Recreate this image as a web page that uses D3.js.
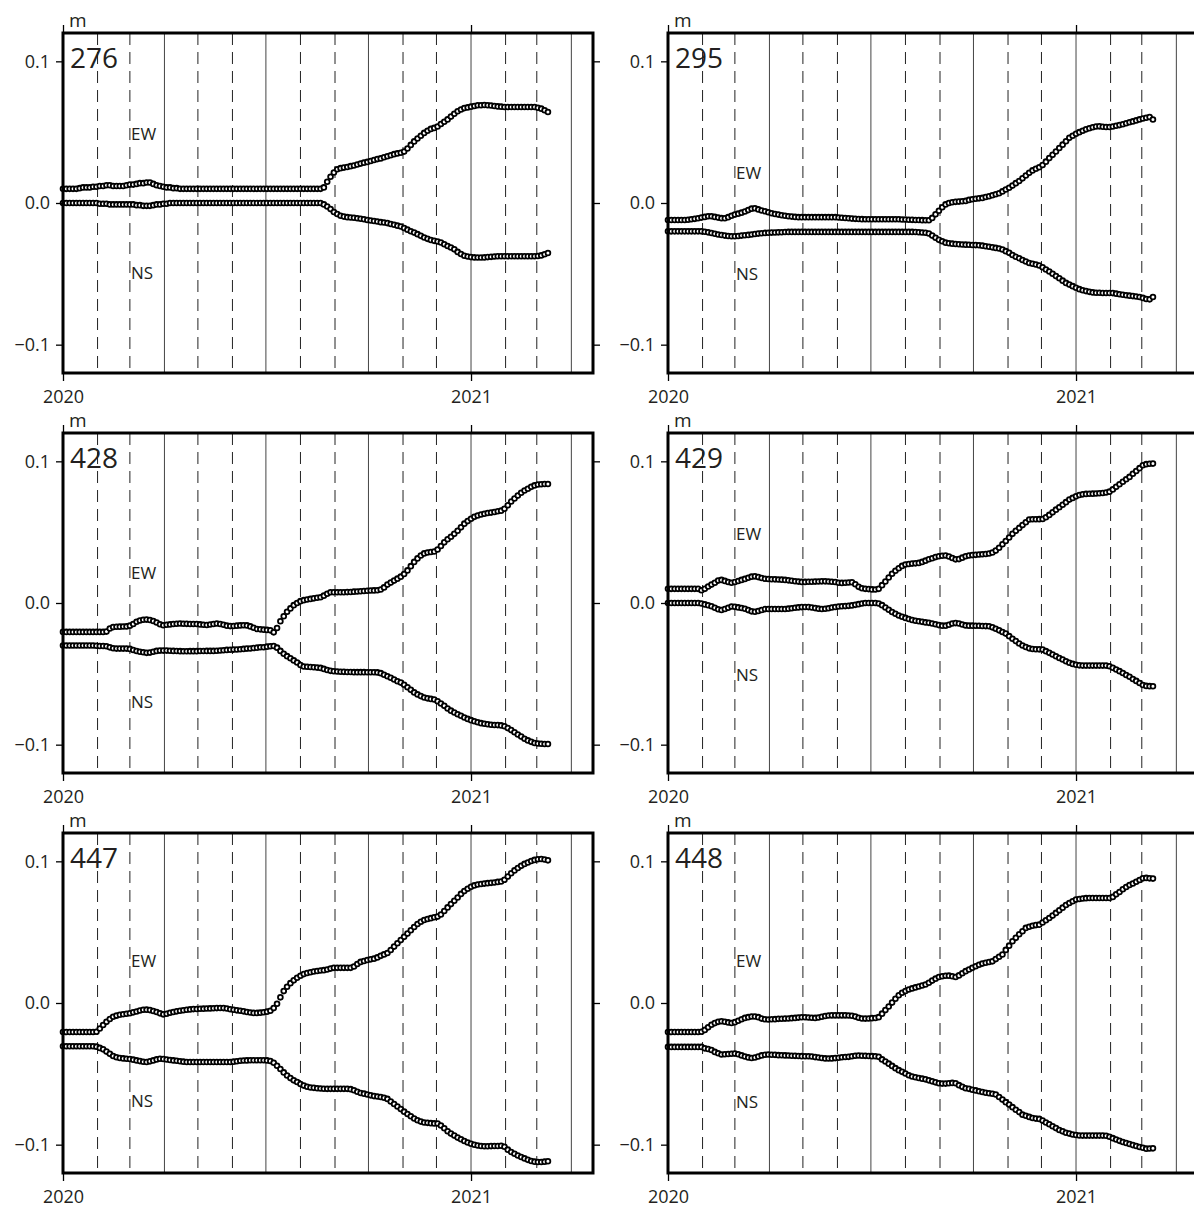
<!DOCTYPE html>
<html><head><meta charset="utf-8">
<script src="https://cdn.jsdelivr.net/npm/d3@7"></script>
<style>
body{margin:0;background:#fff}
svg{display:block}
text{font-family:"Open Sans","Noto Sans",sans-serif;fill:#231f20}
</style>
</head><body>
<svg id="chart" width="1194" height="1207"></svg>
<script>
// ---------- DATA (values in mm; axis labelled in m) ----------
const stations = ["276","295","428","429","447","448"];
// sampling: days since 2020-01-01, every 3 days
const sampleDays = d3.range(0, 436, 3);

const ew276 = [10,10,10,10,10,10.5,11,11,11,11.5, 11.5,12,12,12.5,12.5,12,12,12,12,12.5, 13,13,13.5,14,14,14.5,14.5,13.5,12.5,12,
 11.5,11,11,10.5,10.5,10,10,10,10,10, 10,10,10,10,10,10,10,10,10,10, 10,10,10,10,10,10,10,10,10,10, 10,10,10,10,10,10,10,10,10,10,
 10,10,10,10,10,10,10,10,11,15, 18.5,21.5,23.8,24.6,25,25.4,26,26.5,27.2,27.8, 28.5,29,29.7,30.3,31,31.5,32.3,33,33.7,34.5,
 35,35.5,36.3,38.5,41,43.5,45.5,47.5,49.5,51, 52.3,53,54,55.8,57.4,59,61,63,64.8,66, 67,67.5,68,68.5,69,69,69.2,69,68.8,68.5,
 68.2,68,67.8,67.8,67.8,67.8,67.8,67.8,67.8,67.8, 67.8,67.8,67.2,66.6,65.5,64.2];
const ns276 = [0,0,0,0,0,0,0,0,0,0, 0,-0.5,-0.5,-0.5,-1,-1,-1,-1,-1,-1, -1,-1,-1.5,-1.5,-2,-2,-2,-1.5,-1,-1,
 -0.5,-0.5,0,0,0,0,0,0,0,0, 0,0,0,0,0,0,0,0,0,0, 0,0,0,0,0,0,0,0,0,0, 0,0,0,0,0,0,0,0,0,0,
 0,0,0,0,0,0,0,0,-1,-2.5, -4.3,-6.4,-7.8,-9,-9.6,-10,-10.2,-10.4,-10.8,-11.1, -11.5,-12,-12.3,-12.7,-13.1,-13.5,-13.8,-14.2,-14.8,-15.4,
 -16,-16.6,-17.6,-18.8,-19.9,-20.9,-22,-23.2,-24.3,-25.3, -26.1,-26.7,-27.2,-27.9,-29.1,-30.3,-31.4,-32.7,-34.5,-36,
 -37.2,-37.8,-38.2,-38.4,-38.5,-38.5,-38.4,-38.2,-38,-37.8, -37.6,-37.6,-37.6,-37.6,-37.6,-37.6,-37.6,-37.6,-37.6,-37.6,
 -37.6,-37.6,-37.4,-37,-36.2,-35.3];

const ew295 = [-12,-12,-12,-12,-12,-12,-11.8,-11.5,-11.2,-10.8, -10.3,-9.8,-9.4,-9.4,-9.8,-10.3,-10.7,-10.8,-10,-9,
 -8.2,-7.5,-6.8,-6,-5,-4,-3.7,-4.5,-5.3,-5.8, -6.5,-7.2,-7.8,-8.2,-8.6,-9,-9.3,-9.6,-9.8,-10,
 -10,-10,-10,-10,-10,-10,-10,-10,-10,-10, -10,-10.2,-10.4,-10.6,-10.8,-11,-11.2,-11.3,-11.4,-11.5,
 -11.5,-11.5,-11.5,-11.5,-11.5,-11.5,-11.5,-11.5,-11.5,-11.5, -11.6,-11.7,-11.8,-11.9,-12,-12,-12.1,-12.2,-12.2,-10.5,
 -8,-5.5,-3,-1,0,0.5,0.8,1,1.2,1.5, 2.2,2.6,3,3.3,3.6,4.2,4.8,5.5,6.2,6.9,
 8.2,9.5,10.8,12.3,14,15.5,17.4,19.4,21.3,23, 24.2,25.2,26.8,29.2,31.7,34,36.4,38.8,41.2,43.6,
 46,47.5,48.8,50,51,52,52.8,53.5,54,54.1, 53.8,53.6,53.6,54,54.5,55,55.6,56.3,57,57.6,
 58.3,59,59.6,60.2,60.7,58.9];
const ns295 = [-20,-20,-20,-20,-20,-20,-20,-20,-20,-20, -20,-20.3,-20.7,-21.2,-21.7,-22.2,-22.6,-23,-23.3,-23.5,
 -23.5,-23.3,-23,-22.8,-22.5,-22.2,-21.9,-21.6,-21.3,-21.1, -21,-20.9,-20.8,-20.7,-20.6,-20.5,-20.4,-20.4,-20.4,-20.4,
 -20.4,-20.4,-20.4,-20.4,-20.4,-20.4,-20.4,-20.4,-20.4,-20.4, -20.4,-20.4,-20.4,-20.4,-20.4,-20.4,-20.4,-20.4,-20.4,-20.4,
 -20.4,-20.4,-20.4,-20.4,-20.4,-20.4,-20.4,-20.4,-20.4,-20.4, -20.4,-20.4,-20.4,-20.4,-20.5,-20.6,-20.8,-21,-21.5,-23,
 -24.5,-26,-27,-28,-28.4,-28.7,-28.9,-29.1,-29.3,-29.4, -29.5,-29.6,-29.7,-29.8,-30.1,-30.5,-30.9,-31.3,-31.7,-32.1,
 -32.8,-34,-35.2,-36.7,-37.9,-39,-40.2,-41.3,-42.3,-42.9, -43.4,-44.1,-45.4,-46.9,-48.3,-49.9,-51.6,-53.1,-54.8,-56.4,
 -57.6,-58.7,-59.8,-60.8,-61.6,-62.2,-62.7,-63.1,-63.3,-63.4, -63.5,-63.5,-63.5,-63.6,-64,-64.4,-64.8,-65.1,-65.4,-65.7,
 -66,-66.3,-67,-67.8,-68,-66.3];

const ew428 = [-20.4,-20.4,-20.4,-20.4,-20.4,-20.4,-20.4,-20.4,-20.4,-20.4, -20.4,-20.4,-20.4,-20.2,-18,-17,-16.8,-16.7,-16.6,-16.5,
 -16,-14.8,-13.2,-12.3,-11.8,-11.7,-12,-12.7,-13.8,-15, -15.7,-15.4,-15.1,-14.8,-14.6,-14.5,-14.6,-14.7,-14.8,-14.8,
 -14.8,-15.1,-15.3,-15.5,-15.2,-14.8,-14.5,-14.8,-15.4,-16, -16.3,-16.2,-16,-15.8,-15.7,-15.8,-16.5,-17.5,-18.3,-18.6,
 -18.8,-19,-19.3,-20.7,-17.6,-12.9,-9.3,-6.2,-3.8,-1.5, 0,1.3,2,2.5,2.9,3.3,3.7,4.1,5.2,6.5,
 7.6,7.6,7.6,7.6,7.6,7.7,7.8,8,8.1,8.3, 8.5,8.6,8.8,8.9,9,9.5,11,13,14.4,15.8,
 17.2,18.6,20.5,23,26,29,31.5,33.5,35,35.7, 36,36.4,37.8,40.2,42.8,45,46.8,48.8,51,53.4,
 56,57.8,59.5,60.8,61.8,62.5,63,63.5,63.8,64.2, 64.8,65.2,66.5,69,71.6,73.8,75.8,77.8,79.4,80.7,
 82,83,83.6,83.8,84,84];
const ns428 = [-30,-30,-30,-30,-30,-30,-30,-30,-30,-30, -30.2,-30.3,-30.4,-30.5,-31.3,-31.9,-32.2,-32.2,-32.2,-32.2,
 -32.4,-33.2,-33.9,-34.4,-34.8,-35.2,-35,-34.4,-33.8,-33.6, -33.6,-33.6,-33.7,-33.8,-33.9,-34,-34.1,-34.1,-34,-34,
 -34,-33.9,-33.9,-33.8,-33.8,-33.8,-33.7,-33.5,-33.3,-33.1, -33,-32.9,-32.8,-32.6,-32.4,-32.2,-32.1,-31.8,-31.5,-31.2,
 -31.2,-30.8,-30.5,-30.3,-31.5,-33.8,-35.8,-37.5,-39,-40.5, -42,-43.8,-44.8,-45,-45.2,-45.4,-45.6,-45.8,-46.5,-47.3,
 -47.9,-48.2,-48.4,-48.5,-48.6,-48.7,-48.7,-48.8,-48.8,-48.8, -48.8,-48.9,-48.9,-48.9,-49,-49.5,-50.6,-51.7,-52.8,-54,
 -55.2,-56.2,-57.7,-59.5,-61.3,-63.1,-64.5,-65.7,-66.7,-67.3, -67.7,-68.1,-69.3,-70.9,-72.6,-74.5,-76,-77.3,-78.5,-79.6,
 -80.8,-81.8,-82.7,-83.5,-84.2,-84.8,-85.2,-85.6,-85.9,-86.1, -86.2,-86.4,-87,-88.3,-89.7,-91.2,-92.8,-94.3,-95.8,-97,
 -98,-98.8,-99.2,-99.4,-99.5,-99.5];

const ew429 = [10,10,10,10,10,10,10,10,10,10, 9,10,11.6,13,14.3,15.8,16.3,15.6,14.8,14.3,
 14.8,15.5,16.3,17,17.8,18.6,18.8,18.3,17.7,17.1, 16.9,16.8,16.7,16.6,16.5,16.3,16,15.7,15.4,15.1,
 14.9,14.9,15,15,15.1,15.2,15.3,15.3,15.2,15, 14.8,14.3,14.2,14.3,14.5,14.6,13.2,11.4,10.4,10,
 9.8,9.6,9.5,10,12.6,15.2,18,20.6,22.8,24.5, 26.2,27.2,27.5,27.8,28,28.3,29,29.9,30.9,31.6,
 32.4,33,33.4,33.5,32.8,31.8,30.8,31,32,33, 33.5,33.8,34,34.2,34.4,34.6,34.9,35.6,37,39,
 41.5,43.8,46.2,48.8,51,53,55,57,58.9,59.1, 59.1,59.2,59.3,60.5,62.2,64,65.9,67.6,69.4,71.2,
 73,74.2,75.3,76.2,76.7,77,77.1,77.2,77.3,77.5, 77.7,78,78.6,80.2,82,83.8,85.6,87.4,89,91.2,
 93.2,95.2,97.2,98,98.3,98.4];
const ns429 = [0,0,0,0,0,0,0,0,0,0, -0.3,-1,-1.6,-2.3,-3.3,-4.4,-4.9,-4.2,-3.3,-2.5,
 -2.7,-3.1,-3.5,-4.1,-5,-5.9,-6.2,-5.6,-4.9,-4.3, -4.2,-4.2,-4.2,-4.2,-4.2,-4.2,-4,-3.7,-3.4,-3.1,
 -2.9,-2.8,-2.9,-3.2,-3.6,-4,-4.2,-4.1,-3.7,-3.2, -2.8,-2.5,-2.3,-2.2,-2,-1.7,-1.3,-0.8,-0.4,0,
 0,0,0,-0.3,-1.5,-3.2,-4.8,-6.3,-7.6,-8.8, -9.7,-10.5,-11.3,-12,-12.5,-12.9,-13.3,-13.7,-14,-14.5,
 -15,-15.6,-16,-16,-15.3,-14.5,-14.2,-14.5,-15.2,-15.8, -16,-16,-16.1,-16.1,-16.2,-16.3,-16.4,-17.2,-18.2,-19.3,
 -20.5,-21.6,-23.4,-25.2,-26.9,-28.6,-30,-31.1,-32,-32.5, -32.6,-32.7,-32.9,-34,-35.2,-36.4,-37.6,-38.8,-39.9,-41.1,
 -42.2,-43,-43.6,-44,-44.2,-44.2,-44.2,-44.2,-44.2,-44.2, -44.2,-44.2,-44.6,-45.7,-46.9,-48.1,-49.4,-50.8,-52.1,-53.6,
 -55,-56.5,-57.9,-58.5,-58.7,-58.8];

const ew447 = [-20.5,-20.5,-20.5,-20.5,-20.5,-20.5,-20.5,-20.5,-20.5,-20.5, -20.3,-18,-15.5,-13.3,-11.3,-9.7,-8.9,-8.3,-7.9,-7.6,
 -7.2,-6.6,-6,-5.3,-4.8,-4.7,-5,-5.6,-6.4,-7.3, -8,-7.6,-6.9,-6.3,-5.9,-5.5,-5.1,-4.8,-4.5,-4.3,
 -4.2,-4.1,-4,-3.9,-3.8,-3.7,-3.6,-3.5,-3.6,-3.9, -4.4,-4.8,-5.2,-5.5,-5.9,-6.3,-6.7,-7,-7,-6.8,
 -6.5,-6.1,-5.5,-3.6,-0.5,4,8.4,11.5,14,16, 17.8,19.2,20.4,21.2,21.7,22.2,22.6,22.9,23.2,23.7,
 24.3,24.8,24.8,24.8,24.8,24.8,24.8,25.8,27.5,29, 29.7,30.3,30.8,31.3,32.2,33.3,34.3,35.3,37.4,39.8,
 42.2,44.4,46.7,49,51.4,53.7,55.8,57.4,58.6,59.3, 59.9,60.5,61,62.5,64.9,67.5,69.8,72.2,74.5,77,
 79,80.6,82,83,83.6,84,84.3,84.6,84.8,85.1, 85.5,85.8,87,89.3,91.6,93.6,95.3,96.8,98.2,99.2,
 100.2,101,101.5,101.7,101.3,100.7];
const ns447 = [-30.5,-30.5,-30.5,-30.5,-30.5,-30.5,-30.5,-30.5,-30.5,-30.5, -30.8,-31.7,-32.7,-34.3,-35.9,-37.4,-38.3,-38.8,-39.1,-39.3,
 -39.5,-40,-40.5,-41,-41.5,-41.6,-41.2,-40.5,-39.8,-39.3, -39.5,-39.9,-40.2,-40.5,-40.8,-41.1,-41.4,-41.6,-41.6,-41.6,
 -41.6,-41.6,-41.6,-41.6,-41.6,-41.6,-41.6,-41.6,-41.6,-41.6, -41.6,-41.4,-41.1,-40.8,-40.6,-40.5,-40.4,-40.4,-40.4,-40.4,
 -40.4,-40.5,-40.9,-42.2,-44.3,-46.6,-49,-51.2,-53,-54.6, -55.8,-57.2,-58.3,-59.1,-59.6,-59.9,-60.2,-60.4,-60.5,-60.6,
 -60.6,-60.6,-60.6,-60.6,-60.6,-60.6,-60.8,-61.6,-62.6,-63.5, -64,-64.6,-65.2,-65.7,-66,-66.3,-66.9,-67.7,-69.5,-71.3,
 -73.1,-74.9,-76.7,-78.3,-79.9,-81.5,-82.8,-83.7,-84.3,-84.6, -84.8,-85,-85.1,-86.5,-88.4,-90.5,-92.2,-93.6,-95,-96.2,
 -97.4,-98.5,-99.4,-100.1,-100.6,-100.9,-101.1,-101.1,-101,-100.9, -100.9,-100.8,-101.5,-103.5,-105.2,-106.4,-107.6,-108.7,-109.7,-110.7,
 -111.5,-112,-112.2,-112.2,-112,-111.7];

const ew448 = [-20.5,-20.5,-20.5,-20.5,-20.5,-20.5,-20.5,-20.5,-20.5,-20.5, -20.3,-19,-17.2,-15.4,-14.2,-13.3,-12.9,-13.2,-13.7,-14.1,
 -13.5,-12.5,-11.5,-10.5,-10,-9.5,-9.5,-10,-11,-11.5, -11.6,-11.5,-11.4,-11.2,-11.1,-11,-10.9,-10.7,-10.5,-10.3,
 -10.1,-10.1,-10.2,-10.4,-10.5,-10.2,-9.7,-9.2,-8.8,-8.7, -8.7,-8.7,-8.7,-8.7,-8.8,-9,-9.6,-10.4,-10.9,-11,
 -10.9,-10.7,-10.6,-10,-7.5,-5,-2.5,0.3,3,5.5, 7.2,8.5,9.5,10.3,11,11.7,12.4,13.1,14.3,15.8,
 17.2,18.4,18.9,19.2,19.3,18.9,18.4,19.5,21,22.5, 23.6,24.8,25.9,27,27.8,28.4,28.9,29.4,31,32.6,
 34.2,37.5,40.5,43.6,46,48.5,50.7,53,53.8,54.5, 55,55.3,56.8,58.4,60,61.7,63.6,65.4,67.3,69.2,
 70.6,71.8,73,73.4,73.8,74,74.1,74.1,74.1,74.1, 74.1,74.1,74.1,74.9,76.7,78.4,80.3,81.9,83.3,84.4,
 85.6,86.8,88,88.3,88,87.8];
const ns448 = [-31,-31,-31,-31,-31,-31,-31,-31,-31,-31, -31,-32,-32.5,-33.2,-34.5,-35.5,-36.3,-36.2,-36,-35.8,
 -35.7,-36.2,-37,-37.8,-38.4,-38.8,-38.5,-37.8,-37,-36.5, -36.4,-36.5,-36.6,-36.8,-36.9,-37,-37.1,-37.2,-37.3,-37.4,
 -37.5,-37.6,-37.6,-37.8,-38.2,-38.5,-38.8,-39.1,-39.2,-39.1, -38.9,-38.6,-38.3,-38.1,-38,-37.6,-37.2,-37.1,-37.2,-37.3,
 -37.4,-37.5,-37.6,-38,-39.8,-41.3,-42.8,-44.4,-46,-47.4, -48.6,-49.8,-51,-51.9,-52.4,-52.9,-53.4,-53.9,-54.6,-55.3,
 -56,-56.6,-56.9,-56.9,-56.6,-56.4,-56.6,-58,-59.2,-60.2, -60.6,-61.2,-61.7,-62.3,-62.8,-63.3,-63.7,-64.1,-64.6,-66.4,
 -68.2,-70,-71.7,-73.5,-75.3,-77,-78.8,-79.6,-80.4,-81.2, -81.6,-81.8,-83,-84.3,-85.6,-87,-88.3,-89.6,-90.6,-91.6,
 -92.2,-92.8,-93.2,-93.5,-93.6,-93.6,-93.6,-93.6,-93.6,-93.6, -93.6,-93.7,-94.4,-95.4,-96.4,-97.3,-98.1,-98.8,-99.5,-100.3,
 -100.9,-101.6,-102.2,-102.8,-102.7,-102.6];

const ewSeries = [ew276, ew295, ew428, ew429, ew447, ew448];
const nsSeries = [ns276, ns295, ns428, ns429, ns447, ns448];
// component label positions (mm)
const labelEW = [49, 21, 21, 49, 30, 30];
const labelNS = [-49, -50, -70, -51, -69, -70];
const yTickValues = [-100, 0, 100];
const yTickLabels = ["\u22120.1", "0.0", "0.1"];
const xTickYears = ["2020", "2021"];
const unitLabel = "m";

// ---------- LAYOUT ----------
const svg = d3.select("#chart");
const W = 530, H = 340;
const colX = [63, 668];
const rowY = [33, 433, 833];
const t0 = new Date(Date.UTC(2020, 0, 1));
const x = d3.scaleUtc().domain([t0, new Date(Date.UTC(2021, 3, 20, 10))]).range([0, W]);
const y = d3.scaleLinear().domain([-120, 120]).range([H, 0]);
const dayToDate = d => d3.utcDay.offset(t0, d);
const months = d3.utcMonth.range(new Date(Date.UTC(2020, 1, 1)), new Date(Date.UTC(2021, 4, 1)));
const yearTicks = xTickYears.map(s => new Date(Date.UTC(+s, 0, 1)));

stations.forEach((name, i) => {
  const g = svg.append("g").attr("transform", `translate(${colX[i % 2]},${rowY[Math.floor(i / 2)]})`);

  // month grid
  g.selectAll("line.grid").data(months).join("line")
    .attr("x1", d => x(d)).attr("x2", d => x(d))
    .attr("y1", 0).attr("y2", H)
    .attr("stroke", d => d.getUTCMonth() % 3 === 0 ? "#444" : "#222")
    .attr("stroke-width", 1)
    .attr("stroke-dasharray", d => d.getUTCMonth() % 3 === 0 ? null : "12,7");

  // data
  [nsSeries[i], ewSeries[i]].forEach(vals => {
    g.append("g").selectAll("circle").data(vals).join("circle")
      .attr("cx", (v, k) => x(dayToDate(sampleDays[k])))
      .attr("cy", v => y(v))
      .attr("r", 2.4)
      .attr("fill", "#fff")
      .attr("stroke", "#000")
      .attr("stroke-width", 1.8);
  });

  // axes
  const left = g.append("g").call(d3.axisLeft(y).tickValues(yTickValues)
      .tickFormat((d, k) => yTickLabels[k]).tickSize(7).tickPadding(6));
  const right = g.append("g").attr("transform", `translate(${W},0)`)
    .call(d3.axisRight(y).tickValues(yTickValues).tickFormat("").tickSize(7));
  const bottom = g.append("g").attr("transform", `translate(0,${H})`)
    .call(d3.axisBottom(x).tickValues(yearTicks).tickFormat(d3.utcFormat("%Y")).tickSize(8).tickPadding(9));
  const top = g.append("g")
    .call(d3.axisTop(x).tickValues(yearTicks).tickFormat("").tickSize(8));
  [left, right, bottom, top].forEach(a => {
    a.select(".domain").remove();
    a.selectAll(".tick line").attr("stroke", "#000").attr("stroke-width", 1.3);
    a.selectAll("text").attr("font-size", 18).attr("font-family", "'Open Sans','Noto Sans',sans-serif").attr("fill", "#231f20");
  });

  // frame
  g.append("rect").attr("x", 0).attr("y", 0).attr("width", W).attr("height", H)
    .attr("fill", "none").attr("stroke", "#000").attr("stroke-width", 3);

  // texts
  g.append("text").attr("x", 6).attr("y", -6).attr("font-size", 19).text(unitLabel);
  g.append("text").attr("x", 7).attr("y", 35).attr("font-size", 28).text(name);
  const lx = x(new Date(Date.UTC(2020, 2, 2)));
  g.append("text").attr("x", lx).attr("y", y(labelEW[i])).attr("dy", "0.36em").attr("font-size", 17).text("EW");
  g.append("text").attr("x", lx).attr("y", y(labelNS[i])).attr("dy", "0.36em").attr("font-size", 17).text("NS");
});
</script>
</body></html>
